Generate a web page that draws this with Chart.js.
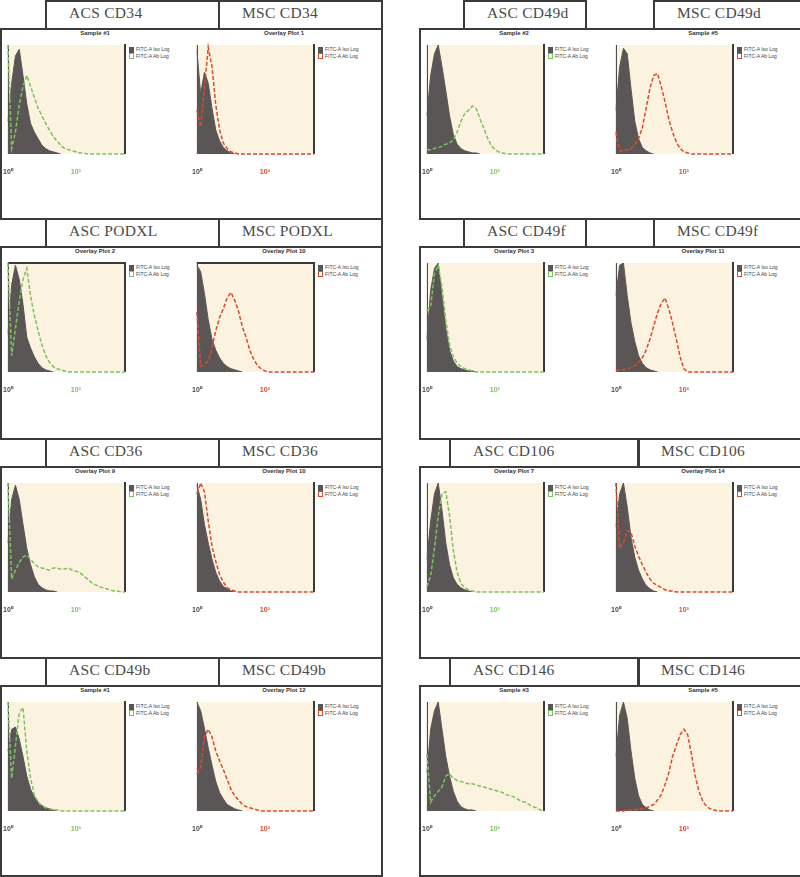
<!DOCTYPE html>
<html>
<head>
<meta charset="utf-8">
<script src="https://cdn.jsdelivr.net/npm/chart.js@4.4.0/dist/chart.umd.min.js"></script>
<style>
  body { margin: 0; background: #fff; }
  #fig { position: relative; width: 800px; height: 877px; overflow: hidden; font-family: "Liberation Sans", Arial, sans-serif; }
  .box { position: absolute; border: 2px solid #3b3b3b; box-sizing: border-box; }
  .head { position: absolute; border: 2px solid #3b3b3b; box-sizing: border-box; font-family: "Liberation Serif", "Times New Roman", serif;
          font-size: 15.5px; letter-spacing: 0.3px; color: #4a4a4a; padding: 2px 0 0 22px; line-height: 17px; white-space: nowrap; }
  .ptitle { position: absolute; width: 70px; text-align: center; font-size: 6px; font-weight: bold; color: #333; white-space: nowrap; }
  .legend { position: absolute; font-size: 5px; color: #444; line-height: 6px; white-space: nowrap; }
  .legend i { display: inline-block; width: 3px; height: 4px; margin-right: 2px; vertical-align: middle; border: 1px solid #555; }
  canvas { position: absolute; }
</style>
</head>
<body>
<div id="fig"></div>
<script>
// histogram bins (channel groups) and x tick labels
const binLabels = [...Array(32).keys()];
const tickLabels = ["10⁰", "10³"];
const tickIndex = [0, 18];
const legendLabels = ["FITC-A Iso Log", "FITC-A Ab Log"];

// % of max count per bin; iso = grey control, stain = coloured line
const ascCD34Iso = [30, 65, 90, 96, 72, 46, 28, 20, 14, 8, 5, 3, 2, 1, 0];
const ascCD34 = [100, 5, 20, 45, 62, 72, 62, 52, 42, 35, 28, 22, 16, 12, 8, 5, 4, 3, 2, 1, 1, 0, 0, 0, 0, 0, 0, 0, 0, 0, 0, 0];
const mscCD34Iso = [95, 55, 75, 65, 42, 22, 12, 6, 3, 1, 0];
const mscCD34 = [40, 25, 60, 98, 80, 45, 22, 10, 5, 2, 1, 0, 0, 0, 0, 0, 0, 0, 0, 0, 0, 0, 0, 0, 0, 0, 0, 0, 0, 0, 0, 0];

const ascCD49dIso = [35, 72, 92, 100, 80, 58, 35, 18, 9, 5, 3, 2, 1, 1, 0];
const ascCD49d = [4, 4, 5, 6, 7, 9, 10, 13, 20, 30, 37, 40, 44, 42, 33, 24, 15, 8, 4, 2, 1, 0, 0, 0, 0, 0, 0, 0, 0, 0, 0, 0];
const mscCD49dIso = [40, 80, 97, 92, 60, 30, 14, 6, 3, 1, 0];
const mscCD49d = [20, 3, 3, 4, 5, 8, 14, 24, 42, 60, 72, 74, 62, 48, 32, 20, 11, 5, 2, 1, 0, 0, 0, 0, 0, 0, 0, 0, 0, 0, 0, 0];

const ascPODXLIso = [35, 80, 98, 85, 62, 32, 22, 14, 8, 4, 2, 1, 0];
const ascPODXL = [100, 15, 40, 65, 85, 95, 70, 52, 38, 25, 15, 9, 5, 3, 2, 1, 0, 0, 0, 0, 0, 0, 0, 0, 0, 0, 0, 0, 0, 0, 0, 0];
const mscPODXLIso = [98, 92, 72, 48, 30, 20, 13, 8, 5, 3, 2, 1, 0];
const mscPODXL = [55, 5, 7, 10, 22, 38, 50, 58, 68, 73, 66, 56, 42, 32, 20, 12, 6, 3, 1, 0, 0, 0, 0, 0, 0, 0, 0, 0, 0, 0, 0, 0];

const ascCD49fIso = [30, 75, 95, 100, 70, 40, 20, 10, 5, 3, 2, 1, 1, 0];
const ascCD49f = [56, 60, 90, 98, 78, 48, 25, 14, 8, 5, 3, 2, 1, 0, 0, 0, 0, 0, 0, 0, 0, 0, 0, 0, 0, 0, 0, 0, 0, 0, 0, 0];
const mscCD49fIso = [70, 98, 100, 70, 45, 28, 15, 8, 4, 2, 1, 0];
const mscCD49f = [1, 2, 2, 3, 4, 6, 9, 13, 20, 30, 42, 54, 63, 68, 58, 45, 30, 14, 3, 0, 0, 0, 0, 0, 0, 0, 0, 0, 0, 0, 0, 0];

const ascCD36Iso = [45, 85, 98, 85, 62, 40, 25, 14, 7, 4, 2, 1, 1, 0];
const ascCD36 = [100, 12, 20, 27, 32, 34, 30, 26, 23, 22, 21, 20, 22, 22, 21, 21, 22, 20, 19, 18, 15, 12, 9, 7, 5, 4, 3, 2, 1, 1, 0, 0];
const mscCD36Iso = [98, 85, 62, 45, 30, 18, 10, 5, 3, 1, 0];
const mscCD36 = [90, 100, 92, 65, 42, 28, 16, 9, 4, 2, 1, 0, 0, 0, 0, 0, 0, 0, 0, 0, 0, 0, 0, 0, 0, 0, 0, 0, 0, 0, 0, 0];

const ascCD106Iso = [30, 65, 90, 100, 75, 45, 25, 13, 7, 4, 2, 1, 0];
const ascCD106 = [5, 15, 40, 70, 90, 92, 70, 38, 18, 8, 4, 2, 1, 0, 0, 0, 0, 0, 0, 0, 0, 0, 0, 0, 0, 0, 0, 0, 0, 0, 0, 0];
const mscCD106Iso = [60, 90, 100, 78, 50, 32, 20, 12, 6, 3, 1, 0];
const mscCD106 = [100, 40, 45, 56, 55, 42, 33, 25, 18, 12, 8, 6, 4, 2, 1, 1, 0, 0, 0, 0, 0, 0, 0, 0, 0, 0, 0, 0, 0, 0, 0, 0];

const ascCD49bIso = [55, 75, 77, 66, 50, 32, 20, 13, 8, 5, 3, 2, 1, 0];
const ascCD49b = [100, 30, 60, 90, 95, 55, 30, 15, 8, 5, 3, 2, 1, 1, 0, 0, 0, 0, 0, 0, 0, 0, 0, 0, 0, 0, 0, 0, 0, 0, 0, 0];
const mscCD49bIso = [100, 92, 76, 58, 42, 27, 17, 11, 6, 4, 2, 1, 0];
const mscCD49b = [34, 40, 68, 75, 68, 55, 46, 38, 29, 20, 14, 10, 6, 4, 3, 2, 1, 0, 0, 0, 0, 0, 0, 0, 0, 0, 0, 0, 0, 0, 0, 0];

const ascCD146Iso = [35, 75, 92, 100, 75, 50, 32, 18, 9, 4, 2, 1, 1, 0];
const ascCD146 = [52, 8, 14, 18, 22, 32, 34, 30, 28, 27, 26, 25, 25, 24, 23, 22, 21, 20, 19, 18, 17, 15, 14, 13, 11, 9, 8, 6, 4, 3, 1, 0];
const mscCD146Iso = [50, 88, 100, 85, 55, 30, 14, 6, 3, 1, 0];
const mscCD146 = [0, 0, 0, 1, 1, 1, 2, 2, 3, 4, 6, 10, 15, 24, 35, 50, 60, 70, 75, 70, 52, 32, 18, 9, 4, 2, 1, 0, 0, 0, 0, 0];

const GREEN = "#7cc25f";
const RED = "#dc4a2c";
const GREY = "#5b5656";
const BEIGE = "#fcf2e0";

const rowTops = [0, 218, 438, 657];
const figBottom = 876;

const panels = [
  { head: "ACS CD34", title: "Sample #1", iso: ascCD34Iso, stain: ascCD34, color: GREEN, left: 7, row: 0 },
  { head: "MSC CD34", title: "Overlay Plot 1", iso: mscCD34Iso, stain: mscCD34, color: RED, left: 196, row: 0 },
  { head: "ASC CD49d", title: "Sample #2", iso: ascCD49dIso, stain: ascCD49d, color: GREEN, left: 426, row: 0 },
  { head: "MSC CD49d", title: "Sample #5", iso: mscCD49dIso, stain: mscCD49d, color: RED, left: 615, row: 0 },
  { head: "ASC PODXL", title: "Overlay Plot 2", iso: ascPODXLIso, stain: ascPODXL, color: GREEN, left: 7, row: 1, top: true },
  { head: "MSC PODXL", title: "Overlay Plot 10", iso: mscPODXLIso, stain: mscPODXL, color: RED, left: 196, row: 1, top: true },
  { head: "ASC CD49f", title: "Overlay Plot 3", iso: ascCD49fIso, stain: ascCD49f, color: GREEN, left: 426, row: 1 },
  { head: "MSC CD49f", title: "Overlay Plot 11", iso: mscCD49fIso, stain: mscCD49f, color: RED, left: 615, row: 1 },
  { head: "ASC CD36", title: "Overlay Plot 9", iso: ascCD36Iso, stain: ascCD36, color: GREEN, left: 7, row: 2 },
  { head: "MSC CD36", title: "Overlay Plot 10", iso: mscCD36Iso, stain: mscCD36, color: RED, left: 196, row: 2 },
  { head: "ASC CD106", title: "Overlay Plot 7", iso: ascCD106Iso, stain: ascCD106, color: GREEN, left: 426, row: 2 },
  { head: "MSC CD106", title: "Overlay Plot 14", iso: mscCD106Iso, stain: mscCD106, color: RED, left: 615, row: 2 },
  { head: "ASC CD49b", title: "Sample #1", iso: ascCD49bIso, stain: ascCD49b, color: GREEN, left: 7, row: 3 },
  { head: "MSC CD49b", title: "Overlay Plot 12", iso: mscCD49bIso, stain: mscCD49b, color: RED, left: 196, row: 3 },
  { head: "ASC CD146", title: "Sample #3", iso: ascCD146Iso, stain: ascCD146, color: GREEN, left: 426, row: 3 },
  { head: "MSC CD146", title: "Sample #5", iso: mscCD146Iso, stain: mscCD146, color: RED, left: 615, row: 3 }
];

// header box x-ranges per row: [ascLeft, ascRight, mscLeft, mscRight]
const leftHeads = [45, 220, 218, 383];
const rightHeadsTop = [463, 587, 653, 812];
const rightHeadsLow = [449, 640, 637, 812];

const fig = document.getElementById("fig");

function addDiv(cls, x, y, w, h, text) {
  const d = document.createElement("div");
  d.className = cls;
  d.style.left = x + "px";
  d.style.top = y + "px";
  if (w != null) d.style.width = w + "px";
  if (h != null) d.style.height = h + "px";
  if (text) d.textContent = text;
  fig.appendChild(d);
  return d;
}

// panel frames
rowTops.forEach((T, r) => {
  const bottom = r < 3 ? rowTops[r + 1] + 2 : figBottom + 1;
  addDiv("box", 0, T + 28, 383, bottom - T - 28);
  addDiv("box", 419, T + 28, 400, bottom - T - 28);
  const lh = leftHeads;
  const rh = r < 2 ? rightHeadsTop : rightHeadsLow;
  const names = panels.filter(p => p.row === r).map(p => p.head);
  addDiv("head", lh[0], T, lh[1] - lh[0], 30, names[0]);
  addDiv("head", lh[2], T, lh[3] - lh[2], 30, names[1]);
  addDiv("head", rh[0], T, rh[1] - rh[0], 30, names[2]);
  addDiv("head", rh[2], T, rh[3] - rh[2], 30, names[3]);
});

// beige plot background and dark frame lines
const plotFrame = {
  id: "plotFrame",
  beforeDraw(chart) {
    const a = chart.chartArea, ctx = chart.ctx;
    ctx.save();
    ctx.fillStyle = BEIGE;
    ctx.fillRect(a.left, a.top, a.right - a.left, a.bottom - a.top);
    ctx.restore();
  },
  beforeDatasetsDraw(chart, args, opts) {
    const a = chart.chartArea, ctx = chart.ctx;
    ctx.save();
    ctx.strokeStyle = "#3a3a3a";
    ctx.lineWidth = 1;
    ctx.beginPath();
    ctx.moveTo(a.left + 0.5, a.top);
    ctx.lineTo(a.left + 0.5, a.bottom);
    ctx.stroke();
    ctx.lineWidth = 2;
    ctx.beginPath();
    ctx.moveTo(a.right, a.top - 1);
    ctx.lineTo(a.right, a.bottom);
    if (opts.top) {
      ctx.moveTo(a.left, a.top);
      ctx.lineTo(a.right, a.top);
    }
    ctx.stroke();
    ctx.restore();
  }
};

function makeChart(p) {
  const T = rowTops[p.row];
  addDiv("ptitle", p.left + 88 - 35, T + 30, null, null, p.title);
  const lg = addDiv("legend", p.left + 122, T + 46);
  lg.innerHTML = '<i style="background:' + GREY + '"></i>' + legendLabels[0] +
    '<br><i style="border-color:' + p.color + '"></i>' + legendLabels[1];

  const cv = document.createElement("canvas");
  cv.width = 138;
  cv.height = 136;
  cv.style.left = (p.left - 10) + "px";
  cv.style.top = (T + 40) + "px";
  fig.appendChild(cv);

  new Chart(cv.getContext("2d"), {
    type: "line",
    data: {
      labels: binLabels,
      datasets: [
        { data: p.stain, borderColor: p.color, borderWidth: 1.5, borderDash: [4, 2],
          pointRadius: 0, fill: false, order: 0, clip: 4 },
        { data: p.iso, borderColor: GREY, backgroundColor: GREY, borderWidth: 1,
          pointRadius: 0, fill: "origin", order: 1 }
      ]
    },
    options: {
      responsive: false,
      animation: false,
      events: [],
      layout: { padding: { left: 10, right: 10, top: 5, bottom: 0 } },
      plugins: {
        legend: { display: false },
        tooltip: { enabled: false },
        plotFrame: { top: !!p.top }
      },
      scales: {
        x: {
          type: "category",
          offset: false,
          grid: { display: false },
          border: { display: false },
          afterFit: s => { s.height = 22; },
          ticks: {
            autoSkip: false,
            maxRotation: 0,
            padding: 6,
            font: { size: 7, weight: "bold" },
            color: c => (c.index === 0 ? "#4a4a4a" : p.color),
            callback: (v, i) => {
              const k = tickIndex.indexOf(i);
              return k < 0 ? null : tickLabels[k];
            }
          }
        },
        y: { display: false, min: 0, max: 100 }
      }
    },
    plugins: [plotFrame]
  });
}

panels.forEach(makeChart);
</script>
</body>
</html>
